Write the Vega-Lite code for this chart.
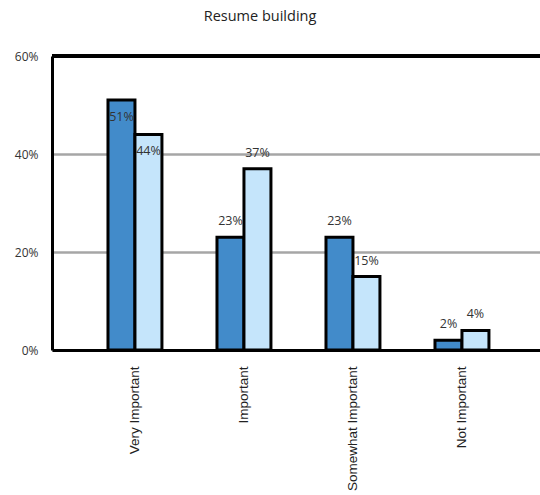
{
  "$schema": "https://vega.github.io/schema/vega-lite/v6.json",
  "autosize": {"type": "none"},
  "width": 488,
  "height": 294,
  "padding": {"left": 52, "top": 56, "right": 0, "bottom": 145},
  "background": "white",
  "title": {"text": "Resume building", "font": "Open Sans", "fontSize": 14.5, "fontWeight": "normal", "color": "#222222", "dx": -36, "offset": 26},
  "config": {"view": {"stroke": null}},
  "data": {"values": [
    {"category": "Very Important", "series": "Series 1", "value": 0.51},
    {"category": "Very Important", "series": "Series 2", "value": 0.44},
    {"category": "Important", "series": "Series 1", "value": 0.23},
    {"category": "Important", "series": "Series 2", "value": 0.37},
    {"category": "Somewhat Important", "series": "Series 1", "value": 0.23},
    {"category": "Somewhat Important", "series": "Series 2", "value": 0.15},
    {"category": "Not Important", "series": "Series 1", "value": 0.02},
    {"category": "Not Important", "series": "Series 2", "value": 0.04}
  ]},
  "encoding": {
    "x": {"field": "category", "type": "nominal", "sort": null,
      "scale": {"paddingInner": 0.505, "paddingOuter": 0.491, "align": 0.523},
      "axis": {"title": null, "labelAngle": -90, "labelAlign": "right", "labelBaseline": "middle", "labelFont": "Liberation Sans", "labelFontSize": 13.5, "labelColor": "#222222", "labelPadding": 16, "ticks": false, "domainColor": "#000000", "domainWidth": 3, "labelLimit": 200}},
    "xOffset": {"field": "series", "type": "nominal", "scale": {"paddingInner": 0, "paddingOuter": 0}},
    "y": {"field": "value", "type": "quantitative",
      "scale": {"domain": [0, 0.6], "nice": false},
      "axis": {"title": null, "values": [0, 0.2, 0.4, 0.6], "format": ".0%", "labelFont": "Open Sans", "labelFontSize": 12, "labelColor": "#333333", "labelPadding": 14, "ticks": false, "domainColor": "#000000", "domainWidth": 3, "gridColor": "#a6a6a6", "gridWidth": 2.5}}
  },
  "layer": [
    {"mark": {"type": "bar", "stroke": "#000000", "strokeWidth": 3, "strokeJoin": "miter"},
      "encoding": {"color": {"field": "series", "type": "nominal", "legend": null, "scale": {"domain": ["Series 1", "Series 2"], "range": ["#428bca", "#c5e5fb"]}}}},
    {"mark": {"type": "rule", "color": "#000000", "strokeWidth": 3},
      "encoding": {"y": {"datum": 0.6}, "x": null, "xOffset": null}},
    {"transform": [{"filter": "datum.value < 0.4"}],
      "mark": {"type": "text", "baseline": "middle", "dy": -16, "font": "Open Sans", "fontSize": 12.5, "color": "#333333"},
      "encoding": {"text": {"field": "value", "type": "quantitative", "format": ".0%"}}},
    {"transform": [{"filter": "datum.value >= 0.4"}],
      "mark": {"type": "text", "baseline": "middle", "dy": 17, "font": "Open Sans", "fontSize": 12.5, "color": "#333333"},
      "encoding": {"text": {"field": "value", "type": "quantitative", "format": ".0%"}}}
  ]
}
